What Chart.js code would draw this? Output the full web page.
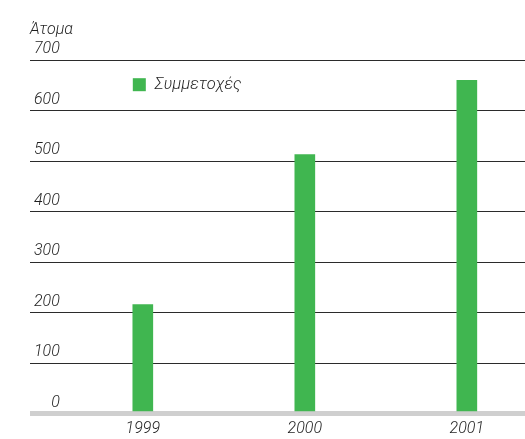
<!DOCTYPE html>
<html>
<head>
<meta charset="utf-8">
<script src="https://cdn.jsdelivr.net/npm/chart.js@4"></script>
<style>
  html, body { margin: 0; padding: 0; background: #fff; }
  #wrap { width: 525px; height: 439px; }
</style>
</head>
<body>
<div id="wrap"><canvas id="chart"></canvas></div>
<script>
// Έτη και συμμετοχές
const years = [1999, 2000, 2001];
const participants = [216, 513, 660];
const yTicks = [0, 100, 200, 300, 400, 500, 600, 700];

const seriesLabel = 'Συμμετοχές';
const axisTitle = 'Άτομα';
const green = '#40b650';
const textColor = '#1f1f1f';
const fontFamily = 'Roboto, "Liberation Sans", sans-serif';

// Υπόμνημα μέσα στην περιοχή του γραφήματος
const innerLegend = {
  id: 'innerLegend',
  afterDraw(chart) {
    const { ctx, chartArea } = chart;
    const ds = chart.data.datasets[0];
    const x = chart.scales.x.getPixelForValue(years[0]) - 10;
    const y = chartArea.top + 18;
    ctx.save();
    ctx.fillStyle = ds.backgroundColor;
    ctx.fillRect(x, y, 13, 13);
    ctx.fillStyle = textColor;
    ctx.font = 'italic 300 16.5px ' + fontFamily;
    ctx.textBaseline = 'middle';
    ctx.fillText(ds.label, x + 22, y + 7);
    ctx.restore();
  }
};

new Chart(document.getElementById('chart'), {
  type: 'bar',
  data: {
    datasets: [{
      label: seriesLabel,
      data: years.map((yr, i) => ({ x: yr, y: participants[i] })),
      backgroundColor: green,
      barThickness: 20,
    }],
  },
  options: {
    responsive: true,
    maintainAspectRatio: false,
    animation: false,
    layout: { padding: { left: 30, right: 0, top: 20, bottom: 0 } },
    plugins: {
      legend: { display: false },
      tooltip: { enabled: false },
      title: {
        display: true,
        text: axisTitle,
        align: 'start',
        color: textColor,
        font: { family: fontFamily, size: 16, style: 'italic', weight: 300 },
        padding: { top: 0, bottom: 21 },
      },
    },
    scales: {
      x: {
        type: 'linear',
        offset: false,
        min: 1998.3037,
        max: 2001.359,
        afterBuildTicks: (scale) => { scale.ticks = years.map((v) => ({ value: v })); },
        afterFit: (scale) => { scale.height = 25.5; },
        grid: { display: false, drawTicks: false },
        border: { display: false },
        ticks: {
          padding: 6,
          color: textColor,
          font: { family: fontFamily, size: 16, style: 'italic', weight: 300 },
          callback: (v) => String(v),
        },
      },
      y: {
        min: 0,
        max: 700,
        z: 1,
        afterBuildTicks: (scale) => { scale.ticks = yTicks.map((v) => ({ value: v })); },
        afterFit: (scale) => { scale.width = 0; },
        grid: {
          drawTicks: false,
          color: (c) => (c.tick && c.tick.value === 0 ? '#cfcfcf' : '#2b2b2b'),
          lineWidth: (c) => (c.tick && c.tick.value === 0 ? 5 : 1),
        },
        border: { display: false },
        ticks: {
          mirror: true,
          crossAlign: 'far',
          padding: 4,
          labelOffset: -11,
          color: textColor,
          font: { family: fontFamily, size: 16, style: 'italic', weight: 300 },
        },
      },
    },
  },
  plugins: [innerLegend],
});
</script>
</body>
</html>
